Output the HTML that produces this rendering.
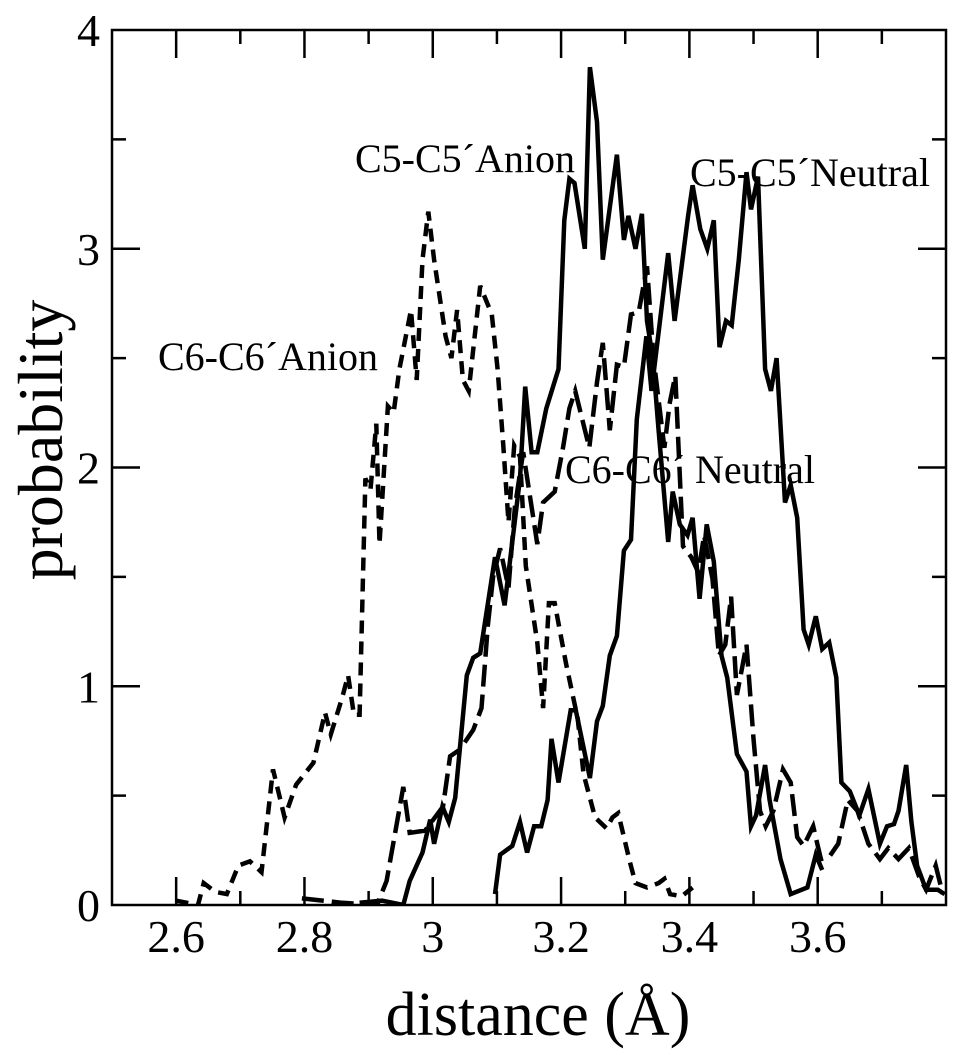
<!DOCTYPE html>
<html><head><meta charset="utf-8"><style>
html,body{margin:0;padding:0;background:#fff;}
svg text{font-family:"Liberation Serif",serif;fill:#000;}
</style></head><body>
<svg id="chart" width="959" height="1050" viewBox="0 0 959 1050" xmlns="http://www.w3.org/2000/svg">
<defs><clipPath id="clip"><rect x="112" y="30" width="834" height="875"/></clipPath></defs>
<g id="ticks"></g>
<g id="series" clip-path="url(#clip)"></g>
<rect x="112" y="30" width="834" height="875" fill="none" stroke="#000" stroke-width="2.5"/>
<text x="538" y="1035" font-size="62" text-anchor="middle">distance (Å)</text>
<text transform="translate(62,440) rotate(-90)" font-size="64" text-anchor="middle">probability</text>
<text x="355" y="172" font-size="40">C5-C5´Anion</text>
<text x="690" y="186" font-size="40">C5-C5´Neutral</text>
<text x="158" y="370" font-size="40">C6-C6´Anion</text>
<text x="565" y="483" font-size="40">C6-C6´ Neutral</text>
</svg>
<script>
const xTicks=[2.6,2.8,3.0,3.2,3.4,3.6];
const xTickLabels=["2.6","2.8","3","3.2","3.4","3.6"];
const yTicks=[0,1,2,3,4];
const yTickLabels=["0","1","2","3","4"];
const c6AnionX=[2.599,2.617,2.634,2.643,2.661,2.679,2.697,2.715,2.733,2.751,2.769,2.787,2.814,2.832,2.841,2.859,2.868,2.877,2.886,2.895,2.903,2.912,2.917,2.930,2.939,2.948,2.966,2.975,2.984,2.993,3.002,3.020,3.029,3.038,3.047,3.056,3.074,3.092,3.101,3.110,3.118,3.127,3.136,3.145,3.163,3.172,3.181,3.190,3.208,3.226,3.235,3.253,3.271,3.280,3.289,3.307,3.316,3.334,3.352,3.361,3.370,3.388,3.405];
const c6AnionY=[0.02,0.01,0.0,0.1,0.06,0.05,0.18,0.2,0.15,0.62,0.4,0.55,0.65,0.88,0.78,0.95,1.05,0.87,0.87,1.95,1.9,2.2,1.65,2.28,2.25,2.45,2.72,2.4,2.95,3.17,2.95,2.6,2.5,2.72,2.4,2.35,2.83,2.7,2.45,2.1,1.75,2.1,2.05,1.55,1.2,0.9,1.38,1.38,1.1,0.85,0.6,0.4,0.35,0.4,0.42,0.2,0.1,0.08,0.1,0.12,0.05,0.04,0.08];
const c5AnionX=[2.886,2.921,2.954,2.964,2.984,2.996,3.002,3.015,3.025,3.035,3.053,3.063,3.074,3.097,3.112,3.136,3.144,3.154,3.163,3.177,3.196,3.205,3.213,3.221,3.237,3.245,3.256,3.265,3.287,3.298,3.305,3.316,3.326,3.334,3.343,3.352,3.367,3.374,3.385,3.397,3.405,3.416,3.427,3.438,3.450,3.459,3.474,3.489,3.496,3.504,3.518,3.525,3.542,3.558,3.584,3.597,3.607];
const c5AnionY=[0.01,0.02,0.0,0.11,0.24,0.39,0.28,0.45,0.38,0.49,1.05,1.13,1.15,1.59,1.37,1.95,2.37,2.07,2.07,2.27,2.45,3.13,3.32,3.3,3.0,3.83,3.58,2.95,3.43,3.04,3.15,3.0,3.16,2.67,2.5,2.17,1.66,1.89,1.74,1.69,1.77,1.4,1.74,1.57,1.14,1.04,0.69,0.61,0.36,0.41,0.64,0.48,0.21,0.05,0.08,0.23,0.16];
const c5NeutralX=[3.097,3.105,3.124,3.136,3.147,3.158,3.169,3.179,3.185,3.196,3.215,3.223,3.245,3.256,3.265,3.276,3.287,3.298,3.309,3.318,3.333,3.341,3.367,3.377,3.398,3.405,3.417,3.428,3.438,3.447,3.457,3.466,3.477,3.489,3.496,3.507,3.518,3.527,3.536,3.549,3.558,3.568,3.578,3.586,3.597,3.607,3.618,3.629,3.637,3.650,3.665,3.679,3.697,3.708,3.719,3.726,3.738,3.746,3.755,3.769,3.787,3.798];
const c5NeutralY=[0.05,0.23,0.27,0.38,0.24,0.36,0.36,0.48,0.76,0.56,0.89,0.89,0.58,0.84,0.91,1.14,1.23,1.62,1.67,2.22,2.6,2.35,2.98,2.67,3.15,3.29,3.09,3.0,3.13,2.55,2.67,2.65,2.95,3.35,3.18,3.33,2.45,2.35,2.5,1.84,1.92,1.77,1.26,1.19,1.32,1.17,1.2,1.04,0.56,0.52,0.41,0.53,0.28,0.36,0.37,0.43,0.64,0.38,0.18,0.07,0.07,0.05];
const c6NeutralX=[2.796,2.859,2.913,2.928,2.954,2.964,2.988,3.016,3.027,3.042,3.063,3.076,3.086,3.094,3.105,3.118,3.128,3.141,3.163,3.172,3.190,3.203,3.213,3.222,3.244,3.256,3.265,3.276,3.287,3.298,3.309,3.321,3.334,3.344,3.361,3.369,3.378,3.390,3.403,3.414,3.423,3.436,3.446,3.456,3.465,3.474,3.489,3.500,3.510,3.519,3.531,3.546,3.558,3.568,3.578,3.593,3.605,3.618,3.632,3.647,3.662,3.679,3.697,3.710,3.726,3.742,3.758,3.769,3.784,3.795];
const c6NeutralY=[0.03,0.01,0.0,0.11,0.54,0.33,0.34,0.45,0.68,0.71,0.8,0.9,1.28,1.5,1.63,1.45,1.82,2.07,1.65,1.84,1.89,2.09,2.27,2.35,2.09,2.39,2.57,2.17,2.47,2.46,2.7,2.71,2.92,2.5,2.09,2.29,2.42,1.64,1.59,1.52,1.69,1.49,1.14,1.19,1.41,0.96,1.19,0.76,0.43,0.36,0.43,0.62,0.56,0.31,0.27,0.36,0.21,0.22,0.28,0.48,0.43,0.28,0.21,0.26,0.21,0.26,0.13,0.07,0.18,0.05];

const X0=112,X1=946,Y0=905,Y1=30,XMIN=2.5,XMAX=3.8,YMIN=0,YMAX=4;
function sx(v){return X0+(v-XMIN)/(XMAX-XMIN)*(X1-X0);}
function sy(v){return Y0-(v-YMIN)/(YMAX-YMIN)*(Y0-Y1);}
const NS="http://www.w3.org/2000/svg";
const tg=document.getElementById('ticks');
function line(g,x1,y1,x2,y2,name){
  const l=document.createElementNS(NS,'line');
  l.setAttribute('x1',x1);l.setAttribute('y1',y1);l.setAttribute('x2',x2);l.setAttribute('y2',y2);
  l.setAttribute('stroke','#000');l.setAttribute('stroke-width','2.5');
  
  
  g.appendChild(l);
}
function txt(x,y,s,name,anchor){
  const t=document.createElementNS(NS,'text');
  t.setAttribute('x',x);t.setAttribute('y',y);t.setAttribute('font-size','46');t.setAttribute('text-anchor',anchor);
  t.textContent=s;
  
  
  document.getElementById('chart').appendChild(t);
}
for(let i=1;i<13;i++){
  const v=2.5+i*0.1;
  const major=(i%2===1);
  const len=major?28:14;const x=sx(v);
  line(tg,x,Y0,x,Y0-len,'x-tick');
  line(tg,x,Y1,x,Y1+len,'x-tick-top');
}
for(let i=1;i<8;i++){
  const v=i*0.5;
  const major=(i%2===0);
  const len=major?28:14;const y=sy(v);
  line(tg,X0,y,X0+len,y,'y-tick');
  line(tg,X1,y,X1-len,y,'y-tick-right');
}
xTicks.forEach((v,i)=>txt(sx(v),952,xTickLabels[i],'x-tick-label','middle'));
yTicks.forEach((v,i)=>txt(100,sy(v)+16,yTickLabels[i],'y-tick-label','end'));
const sg=document.getElementById('series');
function series(xs,ys,dash,name){
  const p=document.createElementNS(NS,'polyline');
  p.setAttribute('points',xs.map((x,i)=>sx(x).toFixed(1)+','+sy(ys[i]).toFixed(1)).join(' '));
  p.setAttribute('fill','none');p.setAttribute('stroke','#000');p.setAttribute('stroke-width','4.5');
  p.setAttribute('stroke-linejoin','miter');
  if(dash)p.setAttribute('stroke-dasharray',dash);
  
  
  sg.appendChild(p);
}
series(c6AnionX,c6AnionY,'13,8','series-c6-anion');
series(c6NeutralX,c6NeutralY,'22,8','series-c6-neutral');
series(c5AnionX,c5AnionY,null,'series-c5-anion');
series(c5NeutralX,c5NeutralY,null,'series-c5-neutral');
</script>
</body></html>
